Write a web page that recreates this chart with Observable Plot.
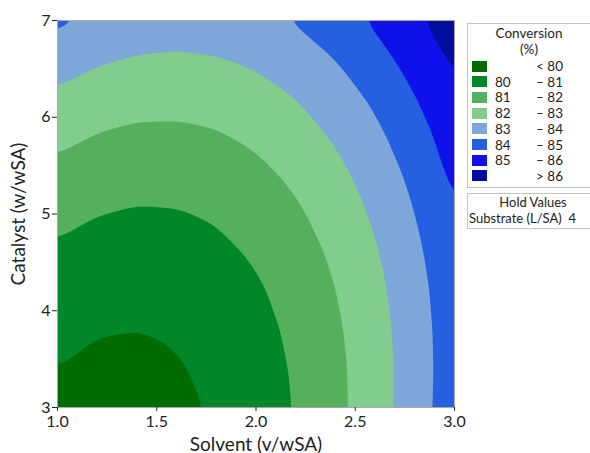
<!DOCTYPE html>
<html><head><meta charset="utf-8">
<script src="https://cdn.jsdelivr.net/npm/d3@7"></script>
<script src="https://cdn.jsdelivr.net/npm/@observablehq/plot@0.6"></script>
<style>
body{margin:0;background:#fff;font-family:Lato,sans-serif;color:#222;}
#wrap{position:relative;width:590px;height:453px;overflow:hidden;background:#fff;}
#chart{position:absolute;left:0;top:0;}
g[aria-label="x-axis label"] text, g[aria-label="y-axis label"] text{font-size:19px;}
.box{position:absolute;border:1px solid #c4c4c4;background:#fff;}
.t{position:absolute;font-size:13.5px;line-height:14px;white-space:nowrap;color:#222;}
.c{transform:translateX(-50%);}
.sw{position:absolute;width:15px;height:11px;}
</style></head><body>
<div id="wrap"><div id="chart"></div><div id="legend"></div></div>
<script>
// Solvent (v/wSA) grid positions (columns) and Catalyst (w/wSA) grid positions (rows)
const solvent = [1.0, 1.2, 1.4, 1.6, 1.8, 2.0, 2.2, 2.4, 2.6, 2.8, 3.0];
const catalyst = [3.0, 3.4, 3.8, 4.2, 4.6, 5.0, 5.4, 5.8, 6.2, 6.6, 7.0];
// Conversion (%), one row per catalyst value
const conversion = [
  [79.82, 79.68, 79.68, 79.82, 80.09, 80.50, 81.05, 81.74, 82.56, 83.51, 84.61],
  [79.99, 79.83, 79.81, 79.93, 80.18, 80.57, 81.10, 81.76, 82.56, 83.49, 84.57],
  [80.22, 80.04, 80.00, 80.09, 80.33, 80.69, 81.20, 81.84, 82.62, 83.53, 84.58],
  [80.51, 80.31, 80.25, 80.32, 80.53, 80.87, 81.36, 81.98, 82.73, 83.62, 84.65],
  [80.86, 80.63, 80.55, 80.60, 80.79, 81.11, 81.57, 82.17, 82.90, 83.78, 84.78],
  [81.26, 81.02, 80.91, 80.94, 81.10, 81.41, 81.85, 82.42, 83.14, 83.99, 84.97],
  [81.72, 81.46, 81.33, 81.33, 81.48, 81.76, 82.18, 82.73, 83.42, 84.25, 85.22],
  [82.24, 81.95, 81.80, 81.79, 81.91, 82.17, 82.57, 83.10, 83.77, 84.58, 85.48],
  [82.82, 82.51, 82.33, 82.30, 82.40, 82.64, 83.01, 83.53, 84.17, 84.96, 85.85],
  [83.45, 83.12, 82.93, 82.87, 82.95, 83.16, 83.52, 84.01, 84.64, 85.40, 86.15],
  [84.24, 83.79, 83.57, 83.49, 83.55, 83.75, 84.08, 84.55, 85.15, 85.80, 86.60]
];
const levels = [80, 81, 82, 83, 84, 85, 86];
const bandColors = ["#006b00", "#00872a", "#55b05c", "#82cd8e", "#7ea6d8", "#2460e0", "#1010ea", "#040c9c"];
const legendLow = ["", "80", "81", "82", "83", "84", "85", ""];
const legendSep = ["<", "–", "–", "–", "–", "–", "–", ">"];
const legendHigh = ["80", "81", "82", "83", "84", "85", "86", "86"];
const xTicks = [1.0, 1.5, 2.0, 2.5, 3.0];
const yTicks = [3, 4, 5, 6, 7];
const holdLabel = "Substrate (L/SA)";
const holdValue = "4";

const points = catalyst.flatMap((c, i) => solvent.map((s, j) => ({s, c, v: conversion[i][j]})));

const chart = Plot.plot({
  width: 590, height: 453,
  marginLeft: 57, marginRight: 136, marginTop: 20, marginBottom: 46,
  style: {fontFamily: "Lato, sans-serif", color: "#222", background: "transparent"},
  x: {domain: [1, 3]},
  y: {domain: [3, 7]},
  color: {type: "threshold", domain: levels, range: bandColors},
  marks: [
    Plot.frame({fill: bandColors[0], stroke: null}),
    Plot.contour(points, {x: "s", y: "c", fill: "v", thresholds: levels, interpolate: "barycentric", pixelSize: 1, blur: 8, stroke: "none"}),
    Plot.frame({stroke: "#a9a9a9"}),
    Plot.axisX({ticks: xTicks, tickFormat: d3.format(".1f"), tickSize: 4, tickPadding: 4, fontSize: 16,
      label: "Solvent (v/wSA)", labelAnchor: "center", labelArrow: "none", labelOffset: 43}),
    Plot.axisY({ticks: yTicks, tickFormat: d3.format("d"), tickSize: 5, tickPadding: 2, fontSize: 16,
      label: "Catalyst (w/wSA)", labelAnchor: "center", labelArrow: "none", labelOffset: 46})
  ]
});
document.getElementById("chart").appendChild(chart);

// Legend (HTML)
const lg = document.getElementById("legend");
function add(cls, css, text) {
  const d = document.createElement("div");
  d.className = cls;
  Object.assign(d.style, css);
  if (text != null) d.textContent = text;
  lg.appendChild(d);
  return d;
}
add("box", {left: "467px", top: "23px", width: "160px", height: "163px"});
add("t c", {left: "529px", top: "26px"}, "Conversion");
add("t c", {left: "529px", top: "42px"}, "(%)");
bandColors.forEach((col, i) => {
  const cy = 66 + 15.7 * i;
  add("sw", {left: "472px", top: (cy - 5.5) + "px", background: col});
  if (legendLow[i]) add("t", {left: "495px", top: (cy - 7) + "px"}, legendLow[i]);
  add("t c", {left: "540px", top: (cy - 7) + "px"}, legendSep[i]);
  add("t", {right: "27px", top: (cy - 7) + "px"}, legendHigh[i]);
});
add("box", {left: "467px", top: "193px", width: "160px", height: "34px"});
add("t c", {left: "533px", top: "195px", fontSize: "13px"}, "Hold Values");
add("t", {left: "469px", top: "210.5px", fontSize: "13px"}, holdLabel + "\u00a0\u00a0" + holdValue);
</script>
</body></html>
